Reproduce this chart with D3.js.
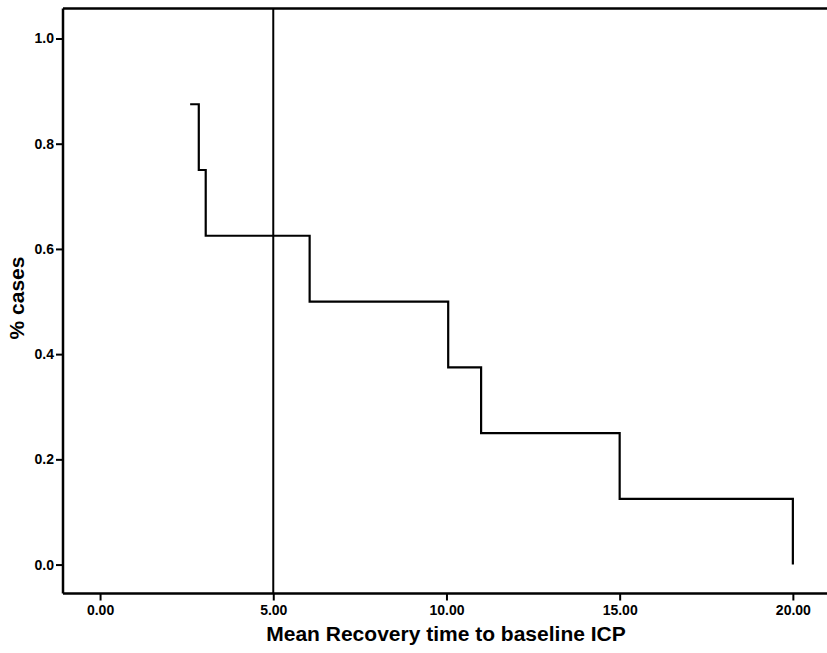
<!DOCTYPE html>
<html>
<head>
<meta charset="utf-8">
<script src="https://cdn.jsdelivr.net/npm/d3@7"></script>
<style>
  body { margin: 0; background: #fff; }
  text { font-family: "Liberation Sans", Arial, sans-serif; font-weight: bold; fill: #000; }
</style>
</head>
<body>
<div id="chart"></div>
<script>
// step points (time, proportion)
var times = [2.6, 2.85, 3.05, 6.05, 10.05, 11.0, 15.0, 20.0];
var props = [0.875, 0.75, 0.625, 0.5, 0.375, 0.25, 0.125, 0.0];
var refLine = 5;
var xTicks = [0, 5, 10, 15, 20];
var yTicks = [0, 0.2, 0.4, 0.6, 0.8, 1.0];

var width = 827, height = 653;
var padLeft = 63, padTop = 8.5, padBottom = 593.5;

var x = d3.scaleLinear().domain([-1.07, 21]).range([padLeft, padLeft + 22.07 * 34.64]);
var y = d3.scaleLinear().domain([-0.055, 1.057]).range([padBottom, padTop]);

var svg = d3.select("#chart").append("svg")
    .attr("width", width)
    .attr("height", height);

// frame: top line runs off the right edge, no right border
svg.append("line")
    .attr("x1", padLeft).attr("x2", width)
    .attr("y1", padTop).attr("y2", padTop)
    .attr("stroke", "#000").attr("stroke-width", 2.5);

var xAxis = svg.append("g")
    .attr("transform", "translate(0," + padBottom + ")")
    .call(d3.axisBottom(x).tickValues(xTicks).tickSize(7).tickPadding(5)
        .tickFormat(d3.format(".2f")));
xAxis.select(".domain").attr("d", "M" + padLeft + ",0H" + width).attr("stroke-width", 2.5);
xAxis.selectAll(".tick line").attr("stroke-width", 2);
xAxis.selectAll("text").style("font-size", "14px");

var yAxis = svg.append("g")
    .attr("transform", "translate(" + padLeft + ",0)")
    .call(d3.axisLeft(y).tickValues(yTicks).tickSize(7).tickPadding(2)
        .tickFormat(d3.format(".1f")));
yAxis.select(".domain").attr("d", "M0," + padTop + "V" + padBottom).attr("stroke-width", 2.5);
yAxis.selectAll(".tick line").attr("stroke-width", 2);
yAxis.selectAll("text").style("font-size", "14px");

// reference line
svg.append("line")
    .attr("x1", x(refLine)).attr("x2", x(refLine))
    .attr("y1", padTop).attr("y2", padBottom)
    .attr("stroke", "#000").attr("stroke-width", 2);

// step curve
var stepPts = [[times[0], props[0]]];
for (var i = 1; i < times.length; i++) {
    stepPts.push([times[i], props[i - 1]]);
    stepPts.push([times[i], props[i]]);
}
var line = d3.line()
    .x(function(d) { return x(d[0]); })
    .y(function(d) { return y(d[1]); });
svg.append("path")
    .datum(stepPts)
    .attr("d", line)
    .attr("fill", "none")
    .attr("stroke", "#000")
    .attr("stroke-width", 2.2);

// axis titles
svg.append("text")
    .attr("x", 446).attr("y", 641)
    .attr("text-anchor", "middle")
    .style("font-size", "21px")
    .text("Mean Recovery time to baseline ICP");

svg.append("text")
    .attr("transform", "translate(24,298)rotate(-90)")
    .attr("text-anchor", "middle")
    .style("font-size", "21px")
    .text("% cases");
</script>
</body>
</html>
